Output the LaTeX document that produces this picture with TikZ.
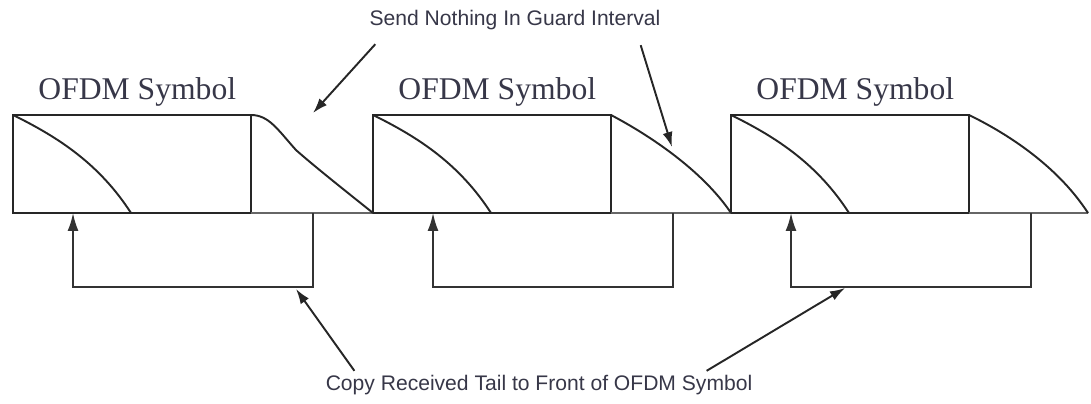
\documentclass[tikz,border=0pt]{standalone}
\usepackage{fontspec}
\setmainfont{Liberation Serif}
\newfontfamily\notefont{Liberation Sans}
\usetikzlibrary{arrows.meta,positioning,calc}
\definecolor{inkgray}{RGB}{55,55,72}
\tikzset{
	symbox/.style={draw=black!85, line width=1.1pt, minimum width=4.76cm,
		minimum height=1.96cm, inner sep=0pt, outer sep=0pt},
	ttl/.style={font=\fontsize{18}{20}\selectfont, text=inkgray, inner sep=0pt},
	note/.style={font=\notefont\fontsize{12}{14}\selectfont, text=inkgray, inner sep=0pt},
	sig/.style={draw=black!85, line width=1.1pt},
	base/.style={draw=black!60, line width=0.9pt},
	cpy/.style={draw=black!80, line width=1.1pt, -{Latex[length=3.6mm,width=2.2mm]}},
	ptr/.style={draw=black!85, line width=1.1pt, -{Latex[length=3mm,width=2mm]}},
}

\begin{document}
\begin{tikzpicture}[x=0.02cm, y=-0.02cm]
	\useasboundingbox (0,0) rectangle (1091,403);
	% symbols
	\node[symbox] at (132,164) (s1) {};
	\node[symbox] at (492,164) (s2) {};
	\node[symbox] at (850,164) (s3) {};
	\node[ttl, above=5pt of s1, xshift=3pt] (t1) {OFDM Symbol};
	\node[ttl, above=5pt of s2, xshift=3pt] (t2) {OFDM Symbol};
	\node[ttl, above=5pt of s3, xshift=3pt] (t3) {OFDM Symbol};
	\coordinate (gend) at (1088,213);
	\draw[base] (s1.south west) -- (gend);
	\draw[sig] (s1.south west) -- (s1.south east);
	\draw[sig] (s2.south west) -- (s2.south east);
	\draw[sig] (s3.south west) -- (s3.south east);
	% decay inside the symbols
	\draw[sig] (s1.north west) .. controls +(47,23) and +(-31,-48) .. ($(s1.south west)+(118,0)$);
	\draw[sig] (s2.north west) .. controls +(47,23) and +(-31,-48) .. ($(s2.south west)+(118,0)$);
	\draw[sig] (s3.north west) .. controls +(47,23) and +(-31,-48) .. ($(s3.south west)+(118,0)$);
	% guard intervals
	\draw[sig] (s1.north east) .. controls +(18,0) and +(-18,-20) .. ++(45,35)
		.. controls +(18,16) and +(-25,-20) .. (s2.south west);
	\draw[sig] (s2.north east) .. controls +(38,20) and +(-29,-43) .. (s3.south west);
	\draw[sig] (s3.north east) .. controls +(31,15) and +(-33,-51) .. (gend);
	% copy tail to front
	\draw[cpy] ($(s1.south east)+(62,0)$) -- ++(0,74) -| ($(s1.south west)+(60,0)$);
	\draw[cpy] ($(s2.south east)+(62,0)$) -- ++(0,74) -| ($(s2.south west)+(60,0)$);
	\draw[cpy] ($(s3.south east)+(62,0)$) -- ++(0,74) -| ($(s3.south west)+(60,0)$);
	% notes
	\node[note] at (515,20) (gi) {Send Nothing In Guard Interval};
	\node[note] at (539,385) (ct) {Copy Received Tail to Front of OFDM Symbol};
	\coordinate (g1) at (313,113);
	\coordinate (g2) at (672,147);
	\coordinate (c1) at (296,289);
	\coordinate (c3) at (845,288);
	\draw[ptr] ($(gi.south west)+(6,14)$) -- (g1);
	\draw[ptr] ($(gi.south east)+(-20,15)$) -- (g2);
	\draw[ptr] ($(ct.north west)+(29,-4)$) -- (c1);
	\draw[ptr] ($(ct.north east)+(-46,-4)$) -- (c3);
\end{tikzpicture}
\end{document}
